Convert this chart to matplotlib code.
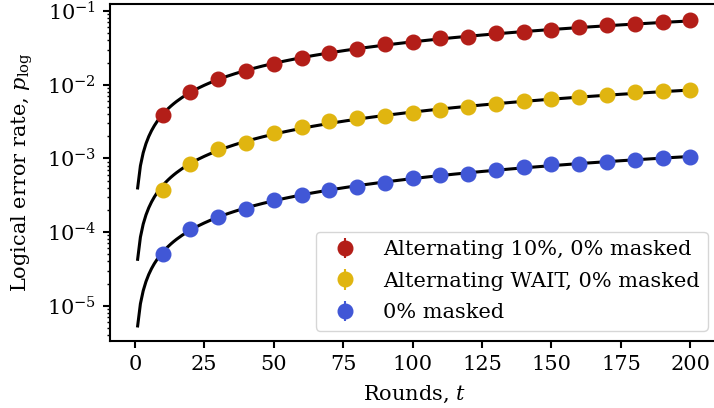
import numpy as np
import matplotlib
matplotlib.use("Agg")
import matplotlib.pyplot as plt

plt.rcParams['font.family'] = ['DejaVu Serif']
plt.rcParams['mathtext.fontset'] = 'dejavuserif'
plt.rcParams['font.size'] = 15

rounds = [10, 20, 30, 40, 50, 60, 70, 80, 90, 100,
          110, 120, 130, 140, 150, 160, 170, 180, 190, 200]

p_alt10 = [3.88e-3, 7.88e-3, 1.205e-2, 1.55e-2, 1.93e-2, 2.28e-2, 2.67e-2, 3.02e-2, 3.56e-2, 3.83e-2,
           4.26e-2, 4.44e-2, 4.98e-2, 5.23e-2, 5.47e-2, 6.01e-2, 6.40e-2, 6.60e-2, 7.10e-2, 7.48e-2]
p_altwait = [3.72e-4, 8.39e-4, 1.34e-3, 1.63e-3, 2.19e-3, 2.69e-3, 3.22e-3, 3.50e-3, 3.80e-3, 4.17e-3,
             4.54e-3, 4.98e-3, 5.42e-3, 6.00e-3, 6.33e-3, 6.74e-3, 7.31e-3, 7.96e-3, 8.21e-3, 8.39e-3]
p_mask0 = [5.00e-5, 1.10e-4, 1.62e-4, 2.04e-4, 2.73e-4, 3.19e-4, 3.72e-4, 4.13e-4, 4.68e-4, 5.37e-4,
           5.96e-4, 6.20e-4, 7.03e-4, 7.71e-4, 8.32e-4, 8.39e-4, 9.02e-4, 9.60e-4, 1.02e-3, 1.03e-3]

labels = ["Alternating 10%, 0% masked", "Alternating WAIT, 0% masked", "0% masked"]
colors = ["#B31E18", "#E0B510", "#4157D6"]
series = [p_alt10, p_altwait, p_mask0]

t_fit = np.arange(1, 201)


def model(eps, t):
    return 0.5 * (1 - (1 - 2 * eps) ** t)


def fit_eps(t, p):
    t = np.asarray(t, float)
    p = np.asarray(p, float)
    grid = np.logspace(-7, -2, 20001)
    res = [np.sum((np.log(model(e, t)) - np.log(p)) ** 2) for e in grid]
    return grid[int(np.argmin(res))]


fig = plt.figure(figsize=(7.14, 4.08), dpi=100)
ax = fig.add_axes([110 / 714, 67 / 408, 608 / 714, 337 / 408])

for p, c, lab in zip(series, colors, labels):
    eps = fit_eps(rounds, p)
    ax.plot(t_fit, model(eps, t_fit), color='black', lw=2.2, zorder=2)
    ax.errorbar(rounds, p, yerr=np.zeros(len(p)), fmt='o', color=c, ms=10.5,
                mew=1, elinewidth=1.5, label=lab, zorder=3)

ax.set_yscale('log')
ax.set_xlim(-8.95, 209.95)
ax.set_ylim(3.32e-6, 0.1245)
ax.set_xticks([0, 25, 50, 75, 100, 125, 150, 175, 200])
ax.set_xlabel("Rounds, $t$", labelpad=7)
ax.set_ylabel("Logical error rate, $p_{\\mathrm{log}}$", labelpad=8)
for s in ax.spines.values():
    s.set_linewidth(1.5)
ax.tick_params(which='major', width=1.5, length=5, pad=5)
ax.tick_params(which='minor', width=1.0, length=2.5)
ax.legend(loc='lower right', fontsize=15, labelspacing=0.6)

fig.savefig("out.png", dpi=100)
